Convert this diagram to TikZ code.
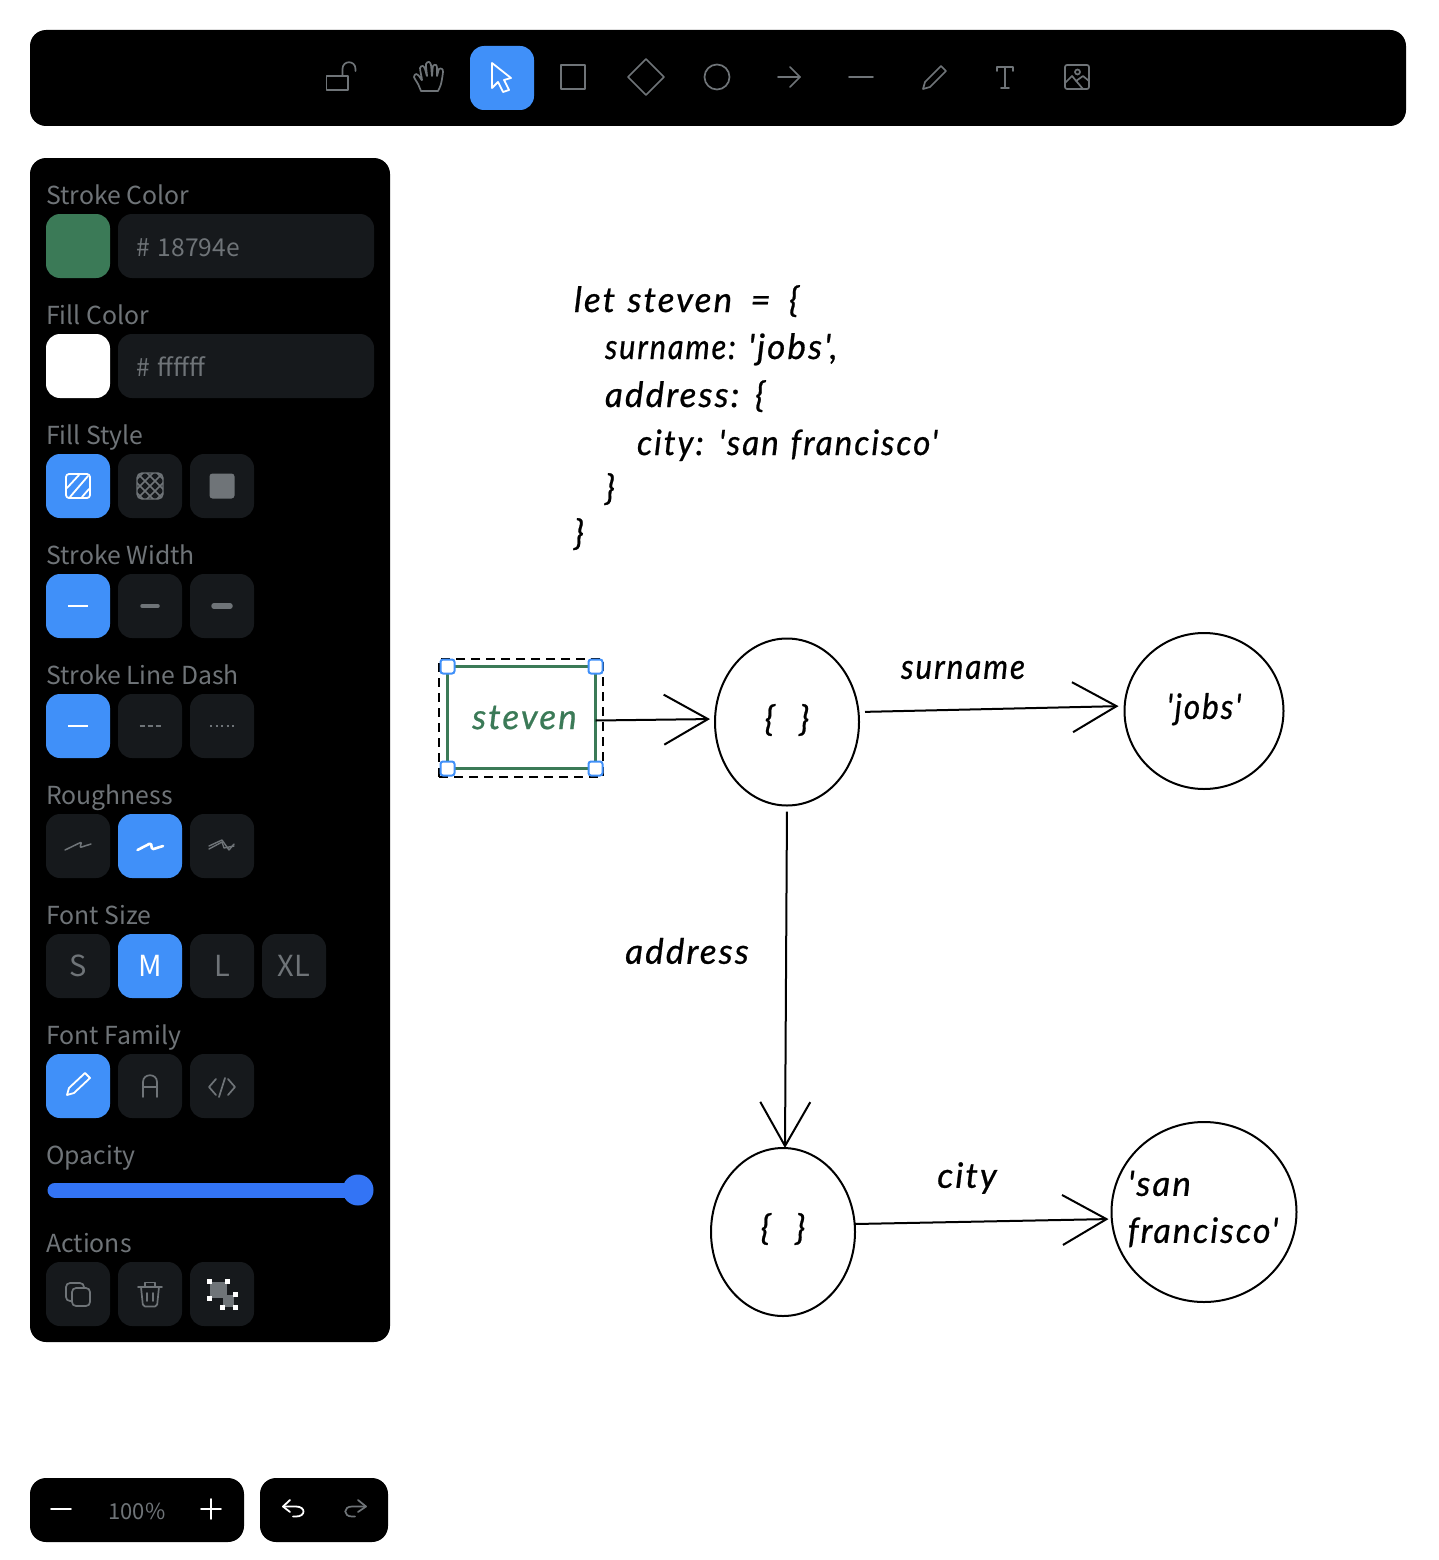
\documentclass[tikz,border=0pt]{standalone}
\usepackage{fontspec}
\setmainfont{Noto Sans CJK SC}
\newfontfamily\handfont[LetterSpace=6,WordSpace=1.2,FakeBold=0.7]{Lato}
\usetikzlibrary{arrows.meta,shapes.geometric}

\definecolor{uiblue}{HTML}{4090F9}
\definecolor{uidark}{HTML}{16191C}
\definecolor{uigray}{HTML}{6F7478}
\definecolor{sliderblue}{HTML}{3374F5}
\definecolor{swatchgreen}{HTML}{3B7A57}

\newcommand{\squeeze}[2]{\scalebox{#1}[1]{#2}}

\tikzset{
    panelbox/.style={fill=black, rounded corners=16pt},
    panellabel/.style={anchor=base west, inner sep=0pt, text=uigray, font=\fontsize{24.8}{30}\selectfont},
    btn/.style={fill=uidark, rounded corners=14pt, minimum width=64pt, minimum height=64pt, inner sep=0pt, text=uigray, font=\fontsize{29}{32}\selectfont},
    btnon/.style={btn, fill=uiblue, text=white},
    inputbox/.style={fill=uidark, rounded corners=14pt, minimum width=256pt, minimum height=64pt, inner sep=0pt, text=uigray, text width=220pt, text height=25pt, text depth=4pt, align=left, font=\fontsize{24.6}{30}\selectfont},
    icon/.style={draw=uigray, line width=1.7pt, line join=round, line cap=round},
    iconon/.style={draw=white, line width=1.8pt, line join=round, line cap=round},
    hand/.style={inner sep=0pt, outer sep=0pt, text=black, font=\handfont\itshape\fontsize{35}{47}\selectfont},
    codeline/.style={hand, anchor=base west},
    bubble/.style={ellipse, draw=black, line width=2pt, inner sep=0pt, outer sep=0pt, fill=white},
    arr/.style={-{Straight Barb[length=44pt,width=50pt,line width=2pt]}, line width=2pt, black},
    handle/.style={draw=uiblue, fill=white, line width=2pt, rounded corners=2.5pt, minimum size=14pt, inner sep=0pt},
    dot/.style={fill=white, minimum size=5pt, inner sep=0pt}
}

\begin{document}
\begin{tikzpicture}[x=1pt,y=-1pt]
    \useasboundingbox (0,0) rectangle (1438,1560);

    % toolbar
    \fill[panelbox] (30,30) rectangle (1406,126);
    \node[btnon] (toolselect) at (502,78) {};
    \draw[icon] (326.5,76) rectangle (348,90);
    \draw[icon] (342.5,76) -- (342.5,69) .. controls (342.5,60) and (355.5,60) .. (355.5,69) -- (355.5,71);
    \draw[icon] plot[smooth,tension=.5] coordinates {(421,91)(418,84)(414,77)(416,74)(419,76)(422,80)(420,68)(423,66)(425,69)(427,76)(426,64)(429,62)(431,65)(432,76)(433,66)(436,65)(437,68)(437,76)(439,69)(442,69)(443,72)(441,84)(438,91)} -- cycle;
    \draw[iconon] (492,63) -- (511,78) -- (504,80) -- (509,90) -- (503,92) -- (498,82) -- (492,88) -- cycle;
    \draw[icon] (561,65) rectangle (585,89);
    \draw[icon] (646,59) -- (664,77) -- (646,95) -- (628,77) -- cycle;
    \draw[icon] (717,77) circle (12.5);
    \draw[icon] (778,77) -- (800,77);
    \draw[icon] (790,67) -- (800,77) -- (790,87);
    \draw[icon] (849,77) -- (873,77);
    \draw[icon] (923,89) -- (925,82) -- (941,66) -- (946,71) -- (930,87) -- cycle;
    \draw[icon] (997,71) -- (997,67) -- (1013,67) -- (1013,71);
    \draw[icon] (1005,67) -- (1005,88);
    \draw[icon] (1001,88) -- (1009,88);
    \draw[icon,rounded corners=2pt] (1065,65) rectangle (1089,89);
    \draw[icon] (1077.5,72) circle (2.5);
    \draw[icon] (1065,83) -- (1072,76) -- (1083,89);
    \draw[icon] (1076,81) -- (1083,76) -- (1089,81);

    % side panel
    \fill[panelbox] (30,158) rectangle (390,1342);

    \node[panellabel] (lblstroke) at (46,204) {Stroke Color};
    \node[btn,fill=swatchgreen] (swatchstroke) at (78,246) {};
    \node[inputbox] (inputstroke) at (246,246) {\# 18794e};

    \node[panellabel] (lblfill) at (46,324) {Fill Color};
    \node[btn,fill=white] (swatchfill) at (78,366) {};
    \node[inputbox] (inputfill) at (246,366) {\# ffffff};

    \node[panellabel] (lblstyle) at (46,444) {Fill Style};
    \node[btnon] (stylehachure) at (78,486) {};
    \node[btn] (stylecross) at (150,486) {};
    \node[btn] (stylesolid) at (222,486) {};
    \draw[iconon,rounded corners=3pt] (66,474) rectangle (90,498);
    \draw[iconon] (67,488) -- (79,475);
    \draw[iconon] (70,497) -- (88,476);
    \draw[iconon] (82,497) -- (89,489);
    \begin{scope}
        \clip[rounded corners=5pt] (137,473) rectangle (163,499);
        \foreach \k in {-30,-20,-10,0,10,20,30} {
            \draw[uigray,line width=1.5pt] (150+\k-14,472) -- (150+\k+14,500);
            \draw[uigray,line width=1.5pt] (150+\k+14,472) -- (150+\k-14,500);
        }
    \end{scope}
    \draw[uigray,line width=1.4pt,rounded corners=5pt] (137,473) rectangle (163,499);
    \fill[uigray,rounded corners=3pt] (209.5,473.5) rectangle (234.5,498.5);

    \node[panellabel] (lblwidth) at (46,564) {Stroke Width};
    \node[btnon] (widththin) at (78,606) {};
    \node[btn] (widthbold) at (150,606) {};
    \node[btn] (widthextra) at (222,606) {};
    \draw[white,line width=1.8pt] (68,606) -- (88,606);
    \draw[uigray,line width=3.5pt,line cap=round] (142,606) -- (158,606);
    \draw[uigray,line width=5.5pt,line cap=round] (214,606) -- (230,606);

    \node[panellabel] (lbldash) at (46,684) {Stroke Line Dash};
    \node[btnon] (dashsolid) at (78,726) {};
    \node[btn] (dashdash) at (150,726) {};
    \node[btn] (dashdot) at (222,726) {};
    \draw[white,line width=1.8pt] (68,726) -- (88,726);
    \draw[uigray,line width=2pt,dash pattern=on 5pt off 3pt] (139.5,726) -- (161,726);
    \draw[uigray,line width=2pt,dash pattern=on 2pt off 3.5pt] (210,726) -- (234,726);

    \node[panellabel] (lblrough) at (46,804) {Roughness};
    \node[btn] (roughlow) at (78,846) {};
    \node[btnon] (roughmid) at (150,846) {};
    \node[btn] (roughhigh) at (222,846) {};
    \draw[icon,line width=1.5pt,rounded corners=1pt] (65,850) -- (81.5,842) -- (80,847.5) -- (91,844);
    \draw[iconon,line width=2.6pt,rounded corners=1.5pt] (137.5,850) -- (151,843) -- (152,849.5) -- (163,846);
    \draw[icon,line width=1.4pt] (209,849) -- (222,842) -- (224,848) -- (234,846);
    \draw[icon,line width=1.4pt] (209,846) -- (222,840) -- (229,850) -- (234,844);

    \node[panellabel] (lblsize) at (46,924) {Font Size};
    \node[btn] (sizes) at (78,966) {S};
    \node[btnon] (sizem) at (150,966) {M};
    \node[btn] (sizel) at (222,966) {L};
    \node[btn] (sizexl) at (294,966) {XL};

    \node[panellabel] (lblfamily) at (46,1044) {Font Family};
    \node[btnon] (familyhand) at (78,1086) {};
    \node[btn] (familynormal) at (150,1086) {};
    \node[btn] (familycode) at (222,1086) {};
    \draw[iconon] (67,1095) -- (69,1088) -- (85,1073) -- (90,1078) -- (74,1093) -- cycle;
    \draw[icon] (143,1097) -- (143,1082) .. controls (143,1073) and (157,1073) .. (157,1082) -- (157,1097);
    \draw[icon] (143,1087) -- (157,1087);
    \draw[icon] (216,1079) -- (209,1087) -- (216,1095);
    \draw[icon] (228,1079) -- (235,1087) -- (228,1095);
    \draw[icon] (225,1078) -- (219,1097);

    \node[panellabel] (lblopacity) at (46,1164) {Opacity};
    \draw[line width=15pt,sliderblue,line cap=round] (55,1190) -- (358,1190);
    \fill[sliderblue] (358,1190) circle (15.5);

    \node[panellabel] (lblactions) at (46,1252) {Actions};
    \node[btn] (actioncopy) at (78,1294) {};
    \node[btn] (actiondelete) at (150,1294) {};
    \node[btn] (actiongroup) at (222,1294) {};
    \draw[icon,rounded corners=4pt] (66,1283) rectangle (84,1301);
    \draw[icon,fill=uidark,rounded corners=4pt] (72,1288) rectangle (90,1306);
    \draw[icon] (138,1287) -- (162,1287);
    \draw[icon] (145,1287) -- (145,1282.5) -- (155,1282.5) -- (155,1287);
    \draw[icon,rounded corners=2pt] (141,1287) -- (143,1306.5) -- (157,1306.5) -- (159,1287);
    \draw[icon] (147,1293) -- (147,1301);
    \draw[icon] (153,1293) -- (153,1301);
    \fill[uigray] (210,1282) rectangle (227,1298);
    \fill[uigray] (223,1295) rectangle (234,1307);
    \node[dot] (dota) at (209,1281) {};
    \node[dot] (dotb) at (227,1281) {};
    \node[dot] (dotc) at (209,1298) {};
    \node[dot] (dotd) at (235,1294) {};
    \node[dot] (dote) at (222,1307) {};
    \node[dot] (dotf) at (235,1307) {};

    % zoom and history
    \fill[panelbox] (30,1478) rectangle (244,1542);
    \fill[panelbox] (260,1478) rectangle (388,1542);
    \node[inner sep=0pt,text=uigray,font=\fontsize{22}{26}\selectfont] (zoomlevel) at (137,1511) {100\%};
    \draw[iconon] (51,1509) -- (71,1509);
    \draw[iconon] (201,1509) -- (221,1509);
    \draw[iconon] (211,1499) -- (211,1519);
    \draw[iconon] (290,1500) -- (283,1506.5) -- (290,1512);
    \draw[iconon] (283,1506.5) -- (296,1506.5) .. controls (306,1506.5) and (306,1516.5) .. (296,1516.5) -- (293,1516.5);
    \draw[icon] (358,1500) -- (366,1506.5) -- (358,1512);
    \draw[icon] (366,1506.5) -- (352,1506.5) .. controls (343,1506.5) and (343,1516.5) .. (352,1516.5) -- (355,1516.5);

    % code text
    \node[codeline] (codea) at (574,312) {let steven \hspace{6pt}=\hspace{6pt} \{};
    \node[codeline] (codeb) at (605,359) {\squeeze{.88}{surname:} 'jobs',};
    \node[codeline] (codec) at (605,407) {address: \{};
    \node[codeline] (coded) at (637,455) {\squeeze{.95}{city: 'san francisco'}};
    \node[codeline] (codee) at (605,500) {\}};
    \node[codeline] (codef) at (574,545) {\}};

    % diagram
    \node[draw=swatchgreen,line width=2.6pt,hand,minimum width=148pt,minimum height=102pt,text=swatchgreen] (steven) at (521.5,717.5) {\hspace{6pt}steven};
    \node[bubble,minimum width=144pt,minimum height=167pt,hand] (objtop) at (787,722) {\raisebox{9pt}{\{\ \ \}}};
    \node[bubble,minimum width=159pt,minimum height=156pt,hand] (jobs) at (1204,711) {\raisebox{10pt}{\squeeze{.9}{'jobs'}}};
    \node[bubble,minimum width=144pt,minimum height=168pt,hand] (objbottom) at (783,1232) {\raisebox{11pt}{\{\ \ \}}};
    \node[bubble,minimum width=185pt,minimum height=180pt] (sanfran) at (1204,1212) {};
    \node[hand,align=left] (lblsanfran) at (1203,1209) {'san\\\squeeze{.97}{francisco'}};

    \node[draw=black,dash pattern=on 9pt off 6pt,line width=2pt,minimum width=164pt,minimum height=118pt,inner sep=0pt] (selbox) at (521,718) {};
    \node[handle] (handlea) at (steven.north west) {};
    \node[handle] (handleb) at (steven.north east) {};
    \node[handle] (handlec) at (steven.south west) {};
    \node[handle] (handled) at (steven.south east) {};

    \draw[arr,shorten >=5pt] ([yshift=-3pt]steven.east) -- ([yshift=3pt]objtop.west);
    \draw[arr,shorten <=6pt,shorten >=6pt] ([yshift=10pt]objtop.east) -- ([yshift=5pt]jobs.west);
    \draw[arr,shorten <=6pt] (objtop.south) -- ([xshift=2pt]objbottom.north);
    \draw[arr,shorten >=3pt] ([yshift=8pt]objbottom.east) -- ([yshift=-7pt]sanfran.west);

    \node[hand] (lblsurname) at (963,670) {\squeeze{.9}{surname}};
    \node[hand] (lbladdress) at (687,951) {address};
    \node[hand] (lblcity) at (967,1178) {city};
\end{tikzpicture}
\end{document}
